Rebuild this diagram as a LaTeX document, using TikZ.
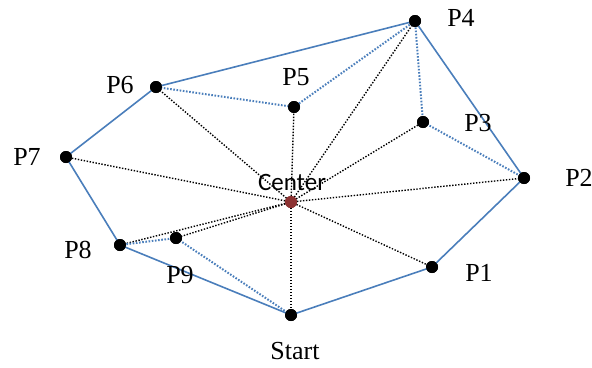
\documentclass[tikz,border=0pt]{standalone}
\usepackage{fontspec}
\setmainfont{Liberation Serif}
\newfontfamily\ctrfont{Carlito}
\definecolor{hullblue}{RGB}{74,126,187}
\definecolor{ctrred}{RGB}{140,50,50}
\begin{document}
\begin{tikzpicture}[x=1pt,y=-1pt,
  pt/.style={circle,fill=black,inner sep=0pt,minimum size=12pt},
  ctr/.style={circle,fill=ctrred,inner sep=0pt,minimum size=12pt},
  lbl/.style={font=\fontsize{26}{26}\selectfont,inner sep=0pt},
  hull/.style={hullblue,line width=1.6pt},
  bdot/.style={hullblue,line width=2pt,dash pattern=on 1.6pt off 1.6pt},
  kdot/.style={black,line width=1.4pt,dash pattern=on 1.4pt off 1.6pt}]
\useasboundingbox (0,0) rectangle (592,367);
\node[pt] (P1) at (432,267) {};
\node[pt] (P2) at (524,178) {};
\node[pt] (P3) at (423,122) {};
\node[pt] (P4) at (415,21) {};
\node[pt] (P5) at (294,107) {};
\node[pt] (P6) at (156,87) {};
\node[pt] (P7) at (66,157) {};
\node[pt] (P8) at (120,245) {};
\node[pt] (P9) at (176,238) {};
\node[pt] (S) at (291,315) {};
\node[ctr] (C) at (291,202) {};
% black dotted spokes
\foreach \p in {P1,P2,P3,P4,P5,P6,P7,P8,P9,S}
  \draw[kdot] (C.center) -- (\p.center);
% hull
\draw[hull] (S.center) -- (P1.center) -- (P2.center) -- (P4.center) -- (P6.center) -- (P7.center) -- (P8.center) -- (S.center);
% blue dotted
\draw[bdot] (P4.center) -- (P5.center) -- (P6.center);
\draw[bdot] (P4.center) -- (P3.center) -- (P2.center);
\draw[bdot] (P8.center) -- (P9.center) -- (S.center);
% redraw points on top
\foreach \p in {P1,P2,P3,P4,P5,P6,P7,P8,P9,S}
  \fill (\p) circle (6pt);
\fill[ctrred] (C) circle (6pt);
% labels
\node[lbl] (L1) at (479,273) {P1};
\node[lbl] (L2) at (579,178) {P2};
\node[lbl] (L3) at (478,123) {P3};
\node[lbl] (L4) at (461,18) {P4};
\node[lbl] (L5) at (296,77) {P5};
\node[lbl] (L6) at (120,85) {P6};
\node[lbl] (L7) at (27,157) {P7};
\node[lbl] (L8) at (78,250) {P8};
\node[lbl] (L9) at (180,275) {P9};
\node[lbl] (LS) at (295,351) {Start};
\node[font=\ctrfont\fontsize{25}{25}\selectfont,inner sep=0pt] (LC) at (292,182) {Center};
\end{tikzpicture}
\end{document}
